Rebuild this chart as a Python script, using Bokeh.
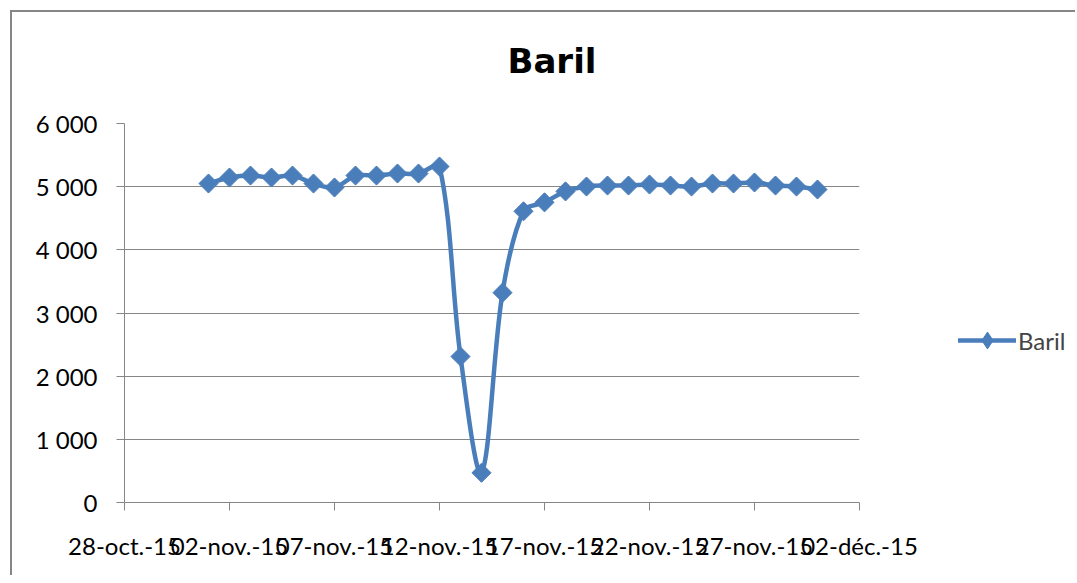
import numpy as np
import pandas as pd
from bokeh.plotting import figure
from bokeh.layouts import row
from bokeh.models import (FixedTicker, Legend, LegendItem, Range1d, Title)
from bokeh.embed import file_html
from bokeh.resources import INLINE

# ---- data ----
start_date = "2015-10-28"
dates = list(pd.date_range("2015-11-01", "2015-11-30", freq="D").strftime("%Y-%m-%d"))
baril = [5050, 5145, 5176, 5145, 5176, 5050, 4987, 5176, 5176, 5208,
         5208, 5319, 2311, 470, 3322, 4610, 4752, 4925, 5002, 5018,
         5018, 5034, 5018, 5002, 5050, 5050, 5066, 5018, 5002, 4955]
series_name = "Baril"
x_tick_days = [0, 5, 10, 15, 20, 25, 30, 35]
x_tick_labels = ["28-oct.-15", "02-nov.-15", "07-nov.-15", "12-nov.-15",
                 "17-nov.-15", "22-nov.-15", "27-nov.-15", "02-déc.-15"]
y_ticks = [0, 1000, 2000, 3000, 4000, 5000, 6000]
y_tick_labels = ["0", "1 000", "2 000", "3 000", "4 000", "5 000", "6 000"]

# ---- layout (page pixels) ----
OFF = 12                               # canvas offset after css border
SPLIT = 935                            # where the legend canvas starts
RIGHT, BOTTOM = 1075, 575
FL, FT, FR, FB = 124, 123, 859, 502    # plot frame edges
X0, X1 = 0, 35
Y0, Y1 = 0, 6000

x = np.array([(pd.Timestamp(d) - pd.Timestamp(start_date)).days for d in dates], dtype=float)
y = np.array(baril, dtype=float)

# smoothed line: length-weighted Catmull-Rom bezier (Excel-like "smoothed line")
sx = (FR - FL) / (X1 - X0)
sy = (FB - FT) / (Y1 - Y0)
P = np.column_stack([x * sx, y * sy])
Pp = np.vstack([P[:1], P, P[-1:]])
d = np.hypot(*np.diff(Pp, axis=0).T)
T = Pp[2:] - Pp[:-2]
dl, dr = d[:-1], d[1:]
tot = dl + dr
f = 1.0 / 3.0
out_c = P + T * (f * dr / tot)[:, None]
in_c = P - T * (f * dl / tot)[:, None]
c0 = out_c[:-1]
c1 = in_c[1:]
x0, y0, x1, y1 = x[:-1], y[:-1], x[1:], y[1:]
cx0, cy0 = c0[:, 0] / sx, c0[:, 1] / sy
cx1, cy1 = c1[:, 0] / sx, c1[:, 1] / sy

BLUE = "#4A7EBB"
GRAY = "#868686"
FONT = "Lato"
H = BOTTOM - OFF

p = figure(width=SPLIT - OFF, height=H, output_backend="svg", toolbar_location=None,
           x_range=Range1d(X0, X1), y_range=Range1d(Y0, Y1),
           min_border_left=FL - OFF, min_border_right=SPLIT - FR,
           min_border_top=FT - OFF, min_border_bottom=BOTTOM - FB)
p.outline_line_color = None
p.background_fill_color = "white"
p.border_fill_color = "white"

p.bezier(x0=x0, y0=y0, x1=x1, y1=y1, cx0=cx0, cy0=cy0, cx1=cx1, cy1=cy1,
         line_color=BLUE, line_width=4.5, line_cap="round")
p.scatter(x=x, y=y, marker="square", angle=np.pi / 4, size=13.5,
          fill_color=BLUE, line_color=BLUE)

p.xaxis.ticker = FixedTicker(ticks=x_tick_days)
p.xaxis.major_label_overrides = dict(zip(x_tick_days, x_tick_labels))
p.yaxis.ticker = FixedTicker(ticks=y_ticks)
p.yaxis.major_label_overrides = dict(zip(y_ticks, y_tick_labels))
for ax in (p.xaxis, p.yaxis):
    ax.axis_line_color = GRAY
    ax.axis_line_width = 1
    ax.major_tick_line_color = GRAY
    ax.major_tick_out = 8
    ax.major_tick_in = 0
    ax.minor_tick_line_color = None
    ax.major_label_text_font = FONT
    ax.major_label_text_font_size = "24px"
    ax.major_label_text_color = "black"
p.yaxis.major_label_standoff = 19
p.xaxis.major_label_standoff = 20
p.xgrid.visible = False
p.ygrid.grid_line_color = GRAY
p.ygrid.grid_line_width = 1

# spacer between frame and title, then the title itself
p.add_layout(Title(text=" ", text_font_size="10px", standoff=30), "above")
p.add_layout(Title(text=series_name, align="left", offset=383, standoff=0,
                   text_font="DejaVu Sans", text_font_size="34px",
                   text_font_style="bold", text_color="black"), "above")

# legend area (second canvas to the right of the plot)
p2 = figure(width=RIGHT - SPLIT, height=H, output_backend="svg", toolbar_location=None,
            x_range=Range1d(100, 101), y_range=Range1d(100, 101),
            x_axis_type=None, y_axis_type=None,
            min_border_left=0, min_border_right=0, min_border_top=0, min_border_bottom=0)
p2.outline_line_color = None
p2.grid.visible = False
p2.background_fill_color = "white"
p2.border_fill_color = "white"
proxy_line = p2.line(x=x[:2], y=y[:2], line_color=BLUE, line_width=4.5, line_cap="round")
proxy_pts = p2.scatter(x=x[:1], y=y[:1], marker="diamond", size=13.5,
                       fill_color=BLUE, line_color=BLUE)
GH = 42
legend = Legend(items=[LegendItem(label=series_name, renderers=[proxy_line, proxy_pts])],
                location=(958 - SPLIT, 141), glyph_width=58, glyph_height=GH,
                label_standoff=2, padding=0, margin=0, spacing=0,
                border_line_color=None, background_fill_alpha=0,
                label_text_font=FONT, label_text_font_size="24px")
p2.add_layout(legend)

layout = row(p, p2, spacing=0)
layout.styles = {"border-left": f"2px solid {GRAY}", "border-top": f"2px solid {GRAY}",
                 "margin-left": "10px", "margin-top": "10px"}

open("out.html", "w").write(file_html(layout, INLINE))
